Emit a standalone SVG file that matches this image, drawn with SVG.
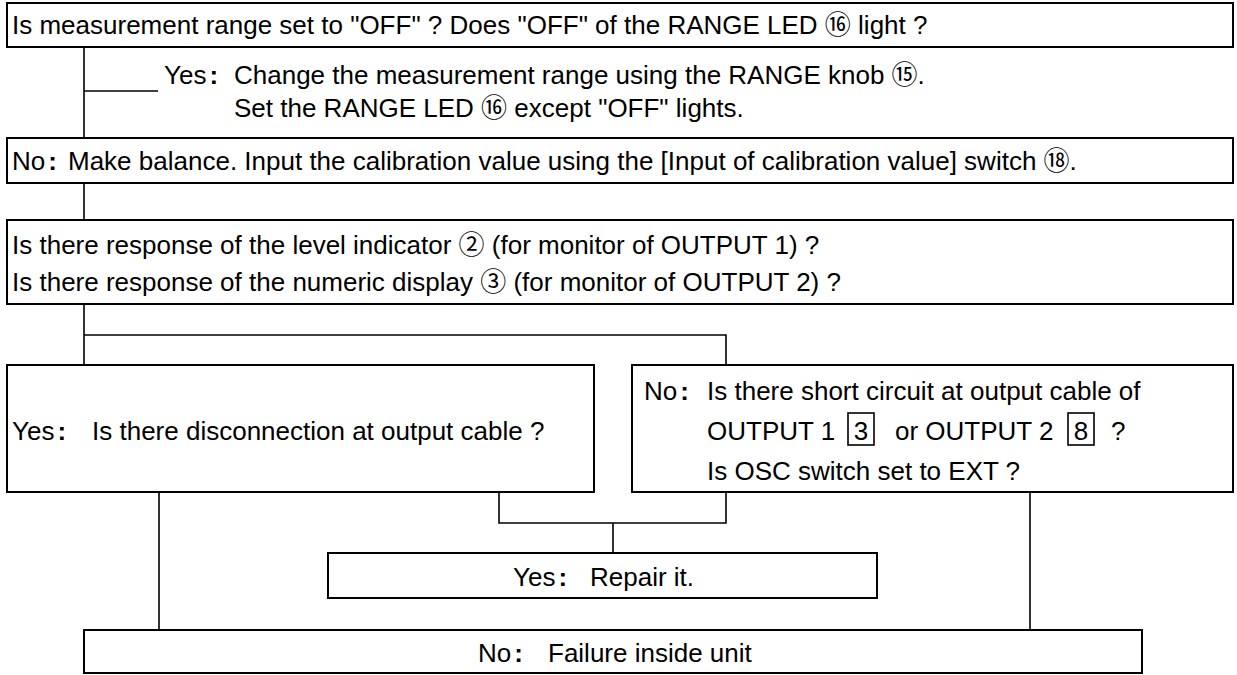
<svg xmlns="http://www.w3.org/2000/svg" width="1237" height="675" viewBox="0 0 1237 675">
<style>
.box{fill:#fff;stroke:#000;stroke-width:2}
.c{stroke:#000;stroke-width:1.6;fill:none}
text{font-family:"Liberation Sans","Noto Sans CJK JP",sans-serif;font-size:26px;fill:#000}
.b{font-weight:bold}
.sq{fill:none;stroke:#000;stroke-width:1.6}
</style>
<rect width="1237" height="675" fill="#fff"/>
<g id="connectors">
<path class="c" d="M84 47V138M84 91H158"/>
<path class="c" d="M84 183V220"/>
<path class="c" d="M84 304V365M84 335H726V365"/>
<path class="c" d="M499 492V523H726V492M613 523V553"/>
<path class="c" d="M159 492V630M1030 492V630"/>
</g>
<g id="n1">
<rect class="box" x="7" y="3" width="1226" height="44"/>
<text x="12" y="34">Is measurement range set to "OFF" ? Does "OFF" of the RANGE LED ⑯ light ?</text>
</g>
<g id="n2">
<text x="164" y="84">Yes<tspan class="b" dx="3">:</tspan></text>
<text x="234" y="84">Change the measurement range using the RANGE knob ⑮.</text>
<text x="234" y="117">Set the RANGE LED ⑯ except "OFF" lights.</text>
</g>
<g id="n3">
<rect class="box" x="7" y="138" width="1226" height="45"/>
<text x="12" y="170">No<tspan class="b" dx="3">:</tspan></text>
<text x="68" y="170">Make balance. Input the calibration value using the [Input of calibration value] switch ⑱.</text>
</g>
<g id="n4">
<rect class="box" x="7" y="220" width="1226" height="84"/>
<text x="12" y="254">Is there response of the level indicator ② (for monitor of OUTPUT 1) ?</text>
<text x="12" y="291">Is there response of the numeric display ③ (for monitor of OUTPUT 2) ?</text>
</g>
<g id="n5">
<rect class="box" x="7" y="365" width="587" height="127"/>
<text x="12" y="440">Yes<tspan class="b" dx="3">:</tspan></text>
<text x="92" y="440">Is there disconnection at output cable ?</text>
</g>
<g id="n6">
<rect class="box" x="632" y="365" width="601" height="127"/>
<text x="644" y="400">No<tspan class="b" dx="3">:</tspan></text>
<text x="707" y="400">Is there short circuit at output cable of</text>
<text x="707" y="440">OUTPUT 1</text>
<rect class="sq" x="848" y="413" width="26" height="32"/>
<text x="861" y="440" text-anchor="middle">3</text>
<text x="895" y="440">or OUTPUT 2</text>
<rect class="sq" x="1068" y="413" width="26" height="32"/>
<text x="1081" y="440" text-anchor="middle">8</text>
<text x="1111" y="440">?</text>
<text x="707" y="480">Is OSC switch set to EXT ?</text>
</g>
<g id="n7">
<rect class="box" x="328" y="553" width="549" height="45"/>
<text x="513" y="586">Yes<tspan class="b" dx="3">:</tspan></text>
<text x="590" y="586">Repair it.</text>
</g>
<g id="n8">
<rect class="box" x="84" y="630" width="1058" height="43"/>
<text x="478" y="662">No<tspan class="b" dx="3">:</tspan></text>
<text x="548" y="662">Failure inside unit</text>
</g>
</svg>
